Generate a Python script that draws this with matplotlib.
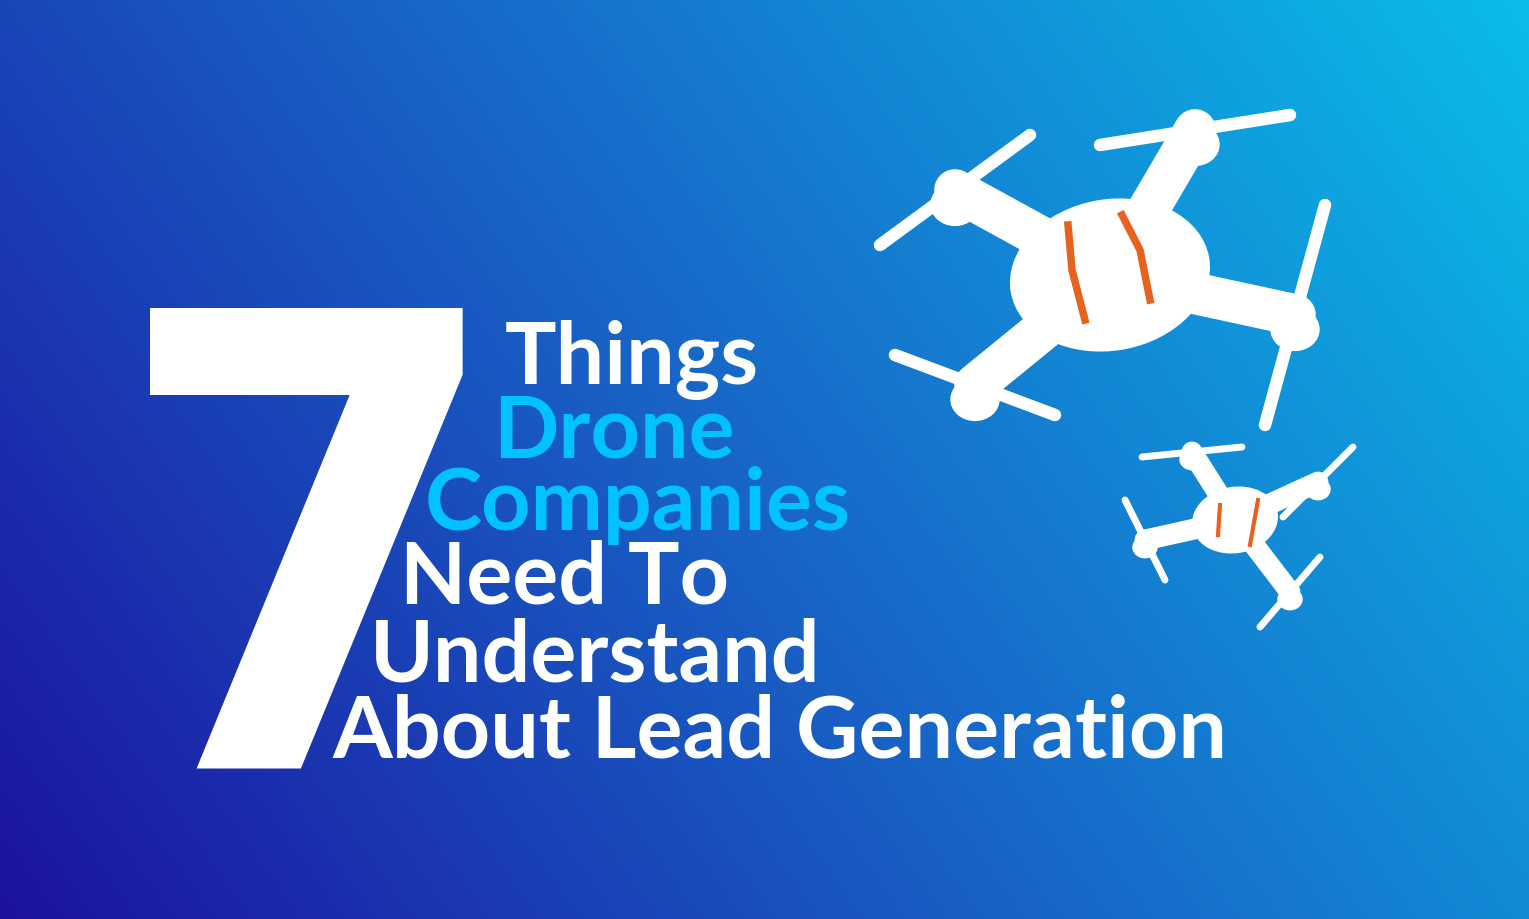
import numpy as np
import matplotlib
matplotlib.use("Agg")
import matplotlib.pyplot as plt
from matplotlib.patches import Ellipse
from matplotlib.colors import LinearSegmentedColormap

# text content
big_number = "7"
title_lines = ["Things", "Drone", "Companies", "Need To", "Understand", "About Lead Generation"]
line_colors = ["white", "#00c2ff", "#00c2ff", "white", "white", "white"]
line_x = [505, 493, 425, 400, 370, 332]
line_base = [384, 457, 530, 604, 682, 758]

W, H = 1529, 919
fig = plt.figure(figsize=(W/100, H/100), dpi=100)
ax = fig.add_axes([0, 0, 1, 1])
ax.set_xlim(0, W); ax.set_ylim(H, 0); ax.axis("off")

yy, xx = np.mgrid[0:H, 0:W]
t = (xx / W) * 0.7 + (1 - yy / H) * 0.3
cmap = LinearSegmentedColormap.from_list("bg", ["#1c12a0", "#1868c8", "#0abce9"])
ax.imshow(t, cmap=cmap, extent=[0, W, H, 0], aspect="auto", zorder=0)

ax.text(112, 768, big_number, color="white", fontsize=455, fontweight="bold",
        fontstretch="condensed", family="DejaVu Sans", ha="left", va="baseline", zorder=2)
for s, c, x, y in zip(title_lines, line_colors, line_x, line_base):
    ax.text(x, y, s, color=c, fontsize=62, fontweight="bold", family="Lato",
            ha="left", va="baseline", zorder=3)

def drone(hubs, body, props, lw_arm, pw, stripes):
    bx, by, bw, bh, ang = body
    for hx, hy in hubs:
        ax.plot([bx, hx], [by, hy], color="white", lw=lw_arm, solid_capstyle="round", zorder=4)
        ax.add_patch(Ellipse((hx, hy + 12 * lw_arm / 25), lw_arm * 1.6, lw_arm * 1.4, color="white", zorder=4))
    ax.add_patch(Ellipse((bx, by), bw, bh, angle=ang, color="white", zorder=5))
    for (hx, hy), (dx, dy) in zip(hubs, props):
        ax.plot([hx - dx, hx + dx], [hy - dy, hy + dy], color="white", lw=pw, solid_capstyle="round", zorder=4)
    for st in stripes:
        xs, ys = zip(*st)
        ax.plot(xs, ys, color="#e8621f", lw=pw * 0.6, zorder=6)

drone([(1195, 130), (955, 190), (975, 385), (1295, 315)],
      (1110, 275, 200, 150, -10),
      [(95, -15), (75, -55), (80, 30), (30, -110)], 30, 9,
      [[(1068, 225), (1072, 270), (1085, 320)], [(1122, 215), (1140, 250), (1150, 300)]])
drone([(1192, 452), (1318, 482), (1145, 540), (1290, 592)],
      (1235, 520, 85, 65, -10),
      [(50, -5), (35, -35), (20, 40), (30, -35)], 15, 5,
      [[(1220, 505), (1218, 535)], [(1258, 500), (1250, 545)]])

fig.savefig("out.png", dpi=100)
